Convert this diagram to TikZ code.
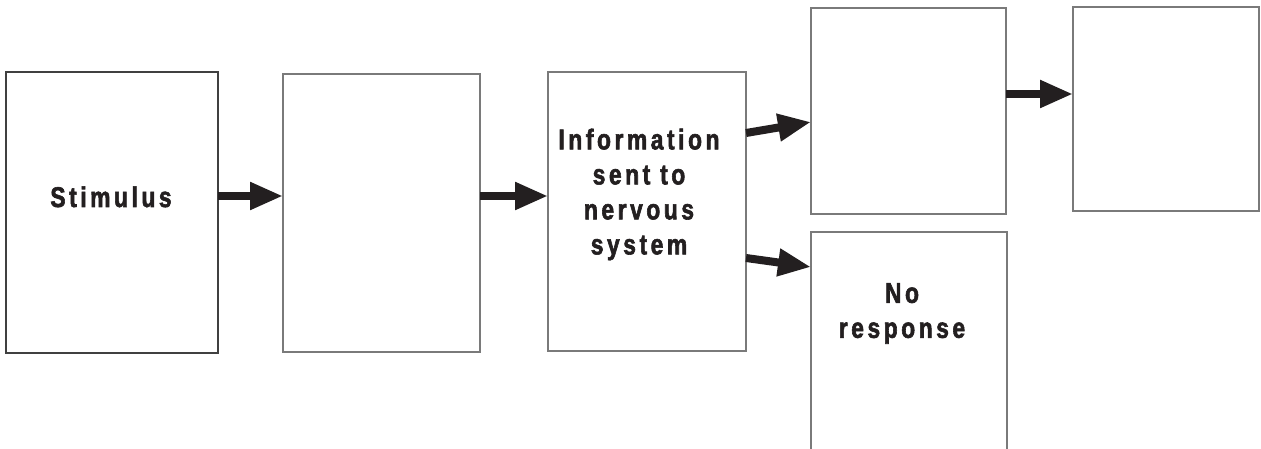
\documentclass[tikz,border=0pt]{standalone}
\usepackage{fontspec}
\usetikzlibrary{arrows.meta}
\newfontfamily\lblfont[FakeStretch=0.8,LetterSpace=12.5,FakeBold=2]{Liberation Sans Bold}
\definecolor{ink}{HTML}{231F20}
\definecolor{rim}{HTML}{7A7A7A}
\begin{document}
\begin{tikzpicture}[x=1pt,y=-1pt,
  stagebox/.style={draw=rim,line width=1.3pt,fill=white,inner sep=0pt,outer sep=0pt,rectangle},
  lbl/.style={inner sep=0pt,text=ink,align=center,font=\lblfont\fontsize{28.5}{35}\selectfont},
  flow/.style={draw=ink,line width=8pt,-{Triangle[length=33pt,width=26pt]}}]
\clip (0,0) rectangle (1261,449);
\fill[white] (0,0) rectangle (1261,449);
% stage boxes
\node[stagebox,draw=black!75,minimum width=212pt,minimum height=281pt] (stim) at (112,212.5) {};
\node[stagebox,minimum width=197pt,minimum height=278pt] (sense) at (381.5,213) {};
\node[stagebox,minimum width=198pt,minimum height=279pt] (info) at (647,211.5) {};
\node[stagebox,minimum width=195pt,minimum height=206pt] (resp) at (908.5,111) {};
\node[stagebox,minimum width=186pt,minimum height=204pt] (effect) at (1166,109) {};
\node[stagebox,minimum width=196pt,minimum height=260pt] (none) at (909,362) {};
% labels
\node[lbl,anchor=base] (tstim) at (111,207) {Stimulus};
\node[lbl,anchor=north] (tinfo) at (639,128.5) {Information\\sent to\\nervous\\system};
\node[lbl,anchor=north] (tnone) at (902,283) {No\\response};
% arrows
\draw[flow] ([yshift=16.5pt]stim.east) -- ([yshift=17pt]sense.west);
\draw[flow] ([yshift=17pt]sense.east) -- ([yshift=15.5pt]info.west);
\draw[flow] ([yshift=78.5pt]info.east) -- ([yshift=-11pt]resp.west);
\draw[flow] ([yshift=-46.5pt]info.east) -- ([yshift=95pt]none.west);
\draw[flow] ([yshift=17pt]resp.east) -- ([yshift=15pt]effect.west);
\end{tikzpicture}
\end{document}
